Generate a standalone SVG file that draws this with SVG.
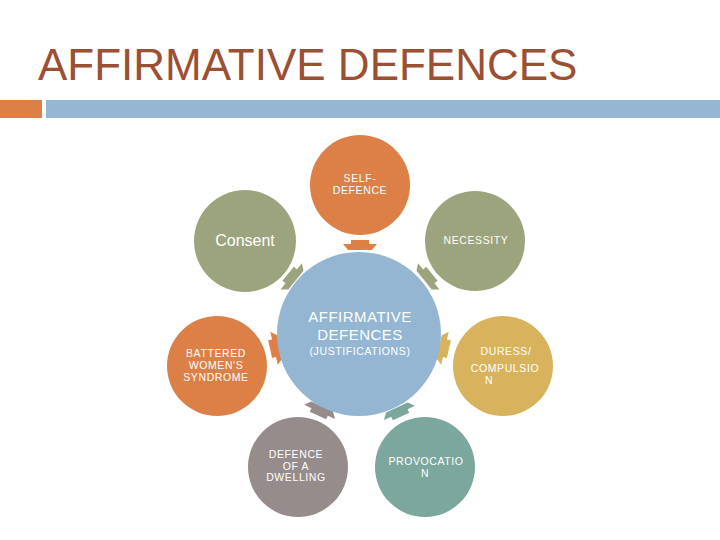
<svg xmlns="http://www.w3.org/2000/svg" width="720" height="540" viewBox="0 0 720 540">
<defs>
<style>
.t{font-family:"Liberation Sans",Arial,sans-serif;fill:#fff;text-anchor:middle}
.s{font-size:10.5px;letter-spacing:0.6px}
.title{font-family:"Liberation Sans",Arial,sans-serif;font-size:44px;fill:#9C5033}
</style>
<polygon id="arr" points="-9,-5 9,-5 9,-1 17,-1 12,5 -12,5 -17,-1 -9,-1"/>
</defs>
<rect width="720" height="540" fill="#fff"/>
<text class="title" x="38" y="80">AFFIRMATIVE DEFENCES</text>
<rect x="0" y="100" width="42" height="18" fill="#DD8047"/>
<rect x="46" y="100" width="674" height="18" fill="#94B6D2"/>

<g id="connectors">
<use href="#arr" fill="#DD8047" transform="translate(360,245)"/>
<use href="#arr" fill="#9BA47C" transform="translate(292,277) rotate(-50.8)"/>
<use href="#arr" fill="#9BA47C" transform="translate(428,277) rotate(50.8)"/>
<use href="#arr" fill="#DD8047" transform="translate(275,348) rotate(-102.7)"/>
<use href="#arr" fill="#D8B25C" transform="translate(444,348) rotate(102.7)"/>
<use href="#arr" fill="#968C8C" transform="translate(320,411) rotate(-155.4)"/>
<use href="#arr" fill="#7BA79D" transform="translate(399,412) rotate(155.4)"/>
</g>

<g id="center">
<circle cx="359" cy="334" r="82" fill="#94B6D2"/>
<text class="t" x="360" y="322" font-size="15" letter-spacing="0.5">AFFIRMATIVE</text>
<text class="t" x="360" y="340" font-size="15" letter-spacing="0.5">DEFENCES</text>
<text class="t s" x="360" y="355">(JUSTIFICATIONS)</text>
</g>
<g id="self-defence">
<circle cx="360" cy="185" r="50" fill="#DD8047"/>
<text class="t s" x="360" y="182">SELF-</text>
<text class="t s" x="360" y="194">DEFENCE</text>
</g>
<g id="consent">
<circle cx="245" cy="241" r="51" fill="#9BA47C"/>
<text class="t" x="245" y="246" font-size="16">Consent</text>
</g>
<g id="necessity">
<circle cx="475" cy="241" r="50" fill="#9BA47C"/>
<text class="t s" x="476" y="244">NECESSITY</text>
</g>
<g id="battered">
<circle cx="217" cy="366" r="50" fill="#DD8047"/>
<text class="t s" x="216" y="357">BATTERED</text>
<text class="t s" x="216" y="369">WOMEN'S</text>
<text class="t s" x="216" y="381">SYNDROME</text>
</g>
<g id="duress">
<circle cx="503" cy="366" r="50" fill="#D8B25C"/>
<text class="t s" x="506" y="355">DURESS/</text>
<text class="t s" x="505" y="372">COMPULSIO</text>
<text class="t s" x="489" y="384">N</text>
</g>
<g id="dwelling">
<circle cx="298" cy="467" r="50" fill="#968C8C"/>
<text class="t s" x="296" y="458">DEFENCE</text>
<text class="t s" x="296" y="470">OF A</text>
<text class="t s" x="296" y="481">DWELLING</text>
</g>
<g id="provocation">
<circle cx="425" cy="467" r="50" fill="#7BA79D"/>
<text class="t s" x="426" y="465">PROVOCATIO</text>
<text class="t s" x="425" y="477">N</text>
</g>
</svg>
